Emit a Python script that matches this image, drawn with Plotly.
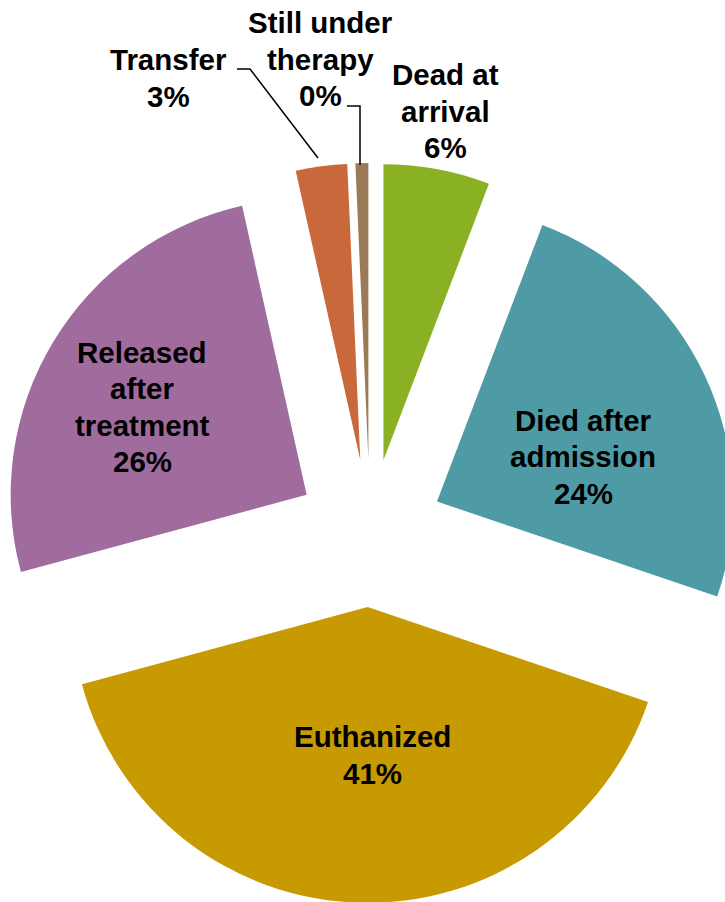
import plotly.graph_objects as go

# Data
categories = ["Dead at arrival", "Died after admission", "Euthanized",
              "Released after treatment", "Transfer", "Still under therapy"]
label_lines = [["Dead at", "arrival"], ["Died after", "admission"], ["Euthanized"],
               ["Released", "after", "treatment"], ["Transfer"], ["Still under", "therapy"]]
values = [5.8, 24.4, 40.6, 25.7, 2.8, 0.7]          # slice shares (%), from angles
pct_labels = [6, 24, 41, 26, 3, 0]                    # percentages as printed
colors = ["#8AB023", "#4F9BA5", "#C69A00", "#A06C9E", "#C9683A", "#9B7B57"]

# figure slightly larger than the window: the reference pie is cropped at right/bottom
W, H = 740, 920

fig = go.Figure(go.Pie(
    labels=categories,
    values=values,
    sort=False,
    direction="clockwise",
    rotation=0,
    pull=[0.25] * len(values),
    marker=dict(colors=colors, line=dict(width=0)),
    textinfo="none",
    hoverinfo="label+percent",
    domain=dict(x=[0.0, 1.0], y=[0.0, 0.8413]),
))

# label placement (pixel centres of each text block)
label_pos = {
    "Dead at arrival": (445, 111),
    "Died after admission": (583, 457),
    "Euthanized": (372, 755),
    "Released after treatment": (142, 407),
    "Transfer": (168, 78),
    "Still under therapy": (320, 59),
}
LINE = 36.5

annotations = []
for cat, lines, p in zip(categories, label_lines, pct_labels):
    px, py = label_pos[cat]
    all_lines = lines + [f"{p}%"]
    n = len(all_lines)
    for i, txt in enumerate(all_lines):
        ly = py + (i - (n - 1) / 2) * LINE
        annotations.append(dict(
            x=px / W, y=1 - ly / H, xref="paper", yref="paper",
            xanchor="center", yanchor="middle", showarrow=False, align="center",
            text=f"<b>{txt}</b>",
            font=dict(family="Liberation Sans, Arial, sans-serif", size=29.5, color="black"),
        ))

def path(points):
    return "M " + " L ".join(f"{x / W:.5f},{1 - y / H:.5f}" for x, y in points)

shapes = [
    dict(type="path", xref="paper", yref="paper",
         path=path([(237, 69), (250, 69), (318, 158)]),
         line=dict(color="black", width=1.5)),
    dict(type="path", xref="paper", yref="paper",
         path=path([(347, 106), (360, 106), (360, 165)]),
         line=dict(color="black", width=1.5)),
]

fig.update_layout(
    width=W, height=H,
    margin=dict(l=0, r=0, t=0, b=0),
    paper_bgcolor="white", plot_bgcolor="white",
    showlegend=False,
    annotations=annotations,
    shapes=shapes,
)

fig.write_html("out.html",
               config={"displayModeBar": False},
               post_script="document.body.style.margin='0';document.body.style.overflow='hidden';")
